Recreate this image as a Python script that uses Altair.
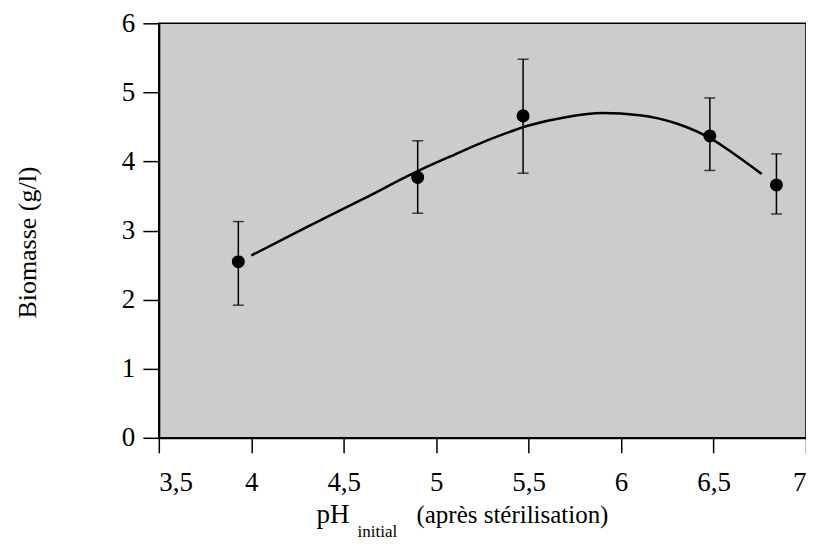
import altair as alt
import pandas as pd

# Measured points (pH initial vs biomass) with error bars
ph_points = [3.93, 4.90, 5.47, 6.48, 6.84]
biomass = [2.55, 3.77, 4.66, 4.37, 3.66]
err_low = [1.92, 3.25, 3.83, 3.87, 3.24]
err_high = [3.13, 4.30, 5.48, 4.92, 4.11]

# Fitted curve
curve_ph = [4.0, 4.3, 4.6, 4.9, 5.1, 5.3, 5.5, 5.7, 5.9, 6.1, 6.3, 6.5, 6.6, 6.76]
curve_bio = [2.64, 3.05, 3.45, 3.86, 4.10, 4.33, 4.52, 4.64, 4.70, 4.67, 4.55, 4.31, 4.13, 3.82]

x_ticks = [3.5, 4.0, 4.5, 5.0, 5.5, 6.0, 6.5, 7.0]
y_ticks = [0, 1, 2, 3, 4, 5, 6]

y_title = "Biomasse (g/l)"
x_title_main = "pH"
x_title_sub = "initial"
x_title_rest = "(après stérilisation)"

FONT = "Liberation Serif"

pts = pd.DataFrame({"ph": ph_points, "bio": biomass, "lo": err_low, "hi": err_high})
crv = pd.DataFrame({"ph": curve_ph, "bio": curve_bio})

xscale = alt.Scale(domain=[3.5, 7], nice=False, zero=False)
yscale = alt.Scale(domain=[0, 6], nice=False)

xaxis = alt.Axis(
    values=x_ticks, title=None,
    labelExpr="replace(format(datum.value, '.1~f'), '.', ',')",
    labelFont=FONT, labelFontSize=27, labelColor="black", labelPadding=17,
    tickSize=15, tickColor="black", tickWidth=1.5,
    domainColor="black", domainWidth=2, grid=False,
)
yaxis = alt.Axis(
    values=y_ticks, format="d", title=y_title, titleFont=FONT, titleFontSize=26,
    titleFontWeight="normal", titleColor="black",
    titleAngle=270, titleX=-131, titleY=219, titleAlign="center", titleBaseline="middle",
    labelFont=FONT, labelFontSize=27, labelColor="black", labelPadding=8,
    tickSize=16, tickColor="black", tickWidth=1.5,
    domainColor="black", domainWidth=2, grid=False,
)

line = alt.Chart(crv).mark_line(color="black", strokeWidth=2.5, interpolate="monotone").encode(
    x=alt.X("ph:Q", scale=xscale, axis=xaxis),
    y=alt.Y("bio:Q", scale=yscale, axis=yaxis),
)

err = alt.Chart(pts).mark_rule(color="black", strokeWidth=1.5).encode(
    x=alt.X("ph:Q", scale=xscale), y=alt.Y("lo:Q", scale=yscale), y2="hi:Q"
)
cap_lo = alt.Chart(pts).mark_tick(color="black", thickness=1.5, size=11, orient="horizontal").encode(
    x=alt.X("ph:Q", scale=xscale), y=alt.Y("lo:Q", scale=yscale)
)
cap_hi = alt.Chart(pts).mark_tick(color="black", thickness=1.5, size=11, orient="horizontal").encode(
    x=alt.X("ph:Q", scale=xscale), y=alt.Y("hi:Q", scale=yscale)
)
dots = alt.Chart(pts).mark_point(filled=True, color="black", size=170, opacity=1, shape="circle").encode(
    x=alt.X("ph:Q", scale=xscale), y=alt.Y("bio:Q", scale=yscale)
)

t_main = alt.Chart(pd.DataFrame({"t": [x_title_main]})).mark_text(
    font=FONT, fontSize=27, align="left", baseline="alphabetic", color="black"
).encode(text="t:N", x=alt.value(158), y=alt.value(500))
t_sub = alt.Chart(pd.DataFrame({"t": [x_title_sub]})).mark_text(
    font=FONT, fontSize=17, align="left", baseline="alphabetic", color="black"
).encode(text="t:N", x=alt.value(199), y=alt.value(514))
t_rest = alt.Chart(pd.DataFrame({"t": [x_title_rest]})).mark_text(
    font=FONT, fontSize=25, align="left", baseline="alphabetic", color="black"
).encode(text="t:N", x=alt.value(258), y=alt.value(500))

chart = alt.layer(line, err, cap_lo, cap_hi, dots, t_main, t_sub, t_rest).properties(
    width=648, height=415,
    background="white",
    autosize=alt.AutoSizeParams(type="none"),
    padding={"left": 151, "top": 15, "right": 0, "bottom": 102},
).configure_view(
    fill="#cccccc", stroke="black", strokeWidth=1.5
)

chart.save("out.html", embed_options={"renderer": "svg", "actions": False})
